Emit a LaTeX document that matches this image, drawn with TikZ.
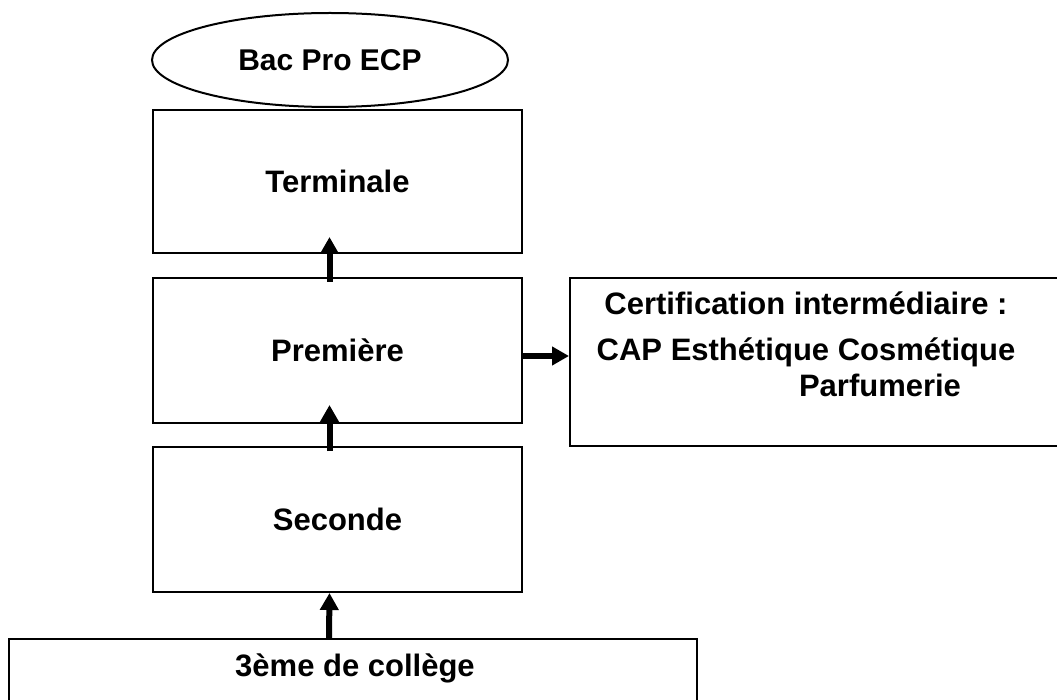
\documentclass[tikz,border=0pt]{standalone}
\usepackage{fontspec}
\setmainfont{Liberation Sans}
\usetikzlibrary{arrows.meta,shapes.geometric}

\begin{document}
\begin{tikzpicture}[x=1pt,y=-1pt,
  box/.style={draw,line width=2pt,rectangle,inner sep=0pt},
  lbl/.style={font=\fontsize{31pt}{36pt}\selectfont\bfseries,inner sep=0pt},
  fleche/.style={line width=6pt,-{Triangle[length=17pt,width=18pt]}}]
\useasboundingbox (0,0) rectangle (1057,700);
\node[box,lbl,ellipse,minimum width=356pt,minimum height=94pt,
  font=\fontsize{30pt}{36pt}\selectfont\bfseries] (bac) at (330,60) {Bac Pro ECP};
\node[box,lbl,minimum width=369pt,minimum height=143pt] (term) at (337.5,181.5) {Terminale};
\node[box,lbl,minimum width=369pt,minimum height=145pt] (prem) at (337.5,350.5) {Premi\`ere};
\node[box,lbl,minimum width=369pt,minimum height=145pt] (sec) at (337.5,519.5) {Seconde};
\node[box,anchor=north,minimum width=688pt,minimum height=80pt] (college) at (353,638) {};
\node[lbl,anchor=base] (collegetxt) at (355,676) {3\`eme de coll\`ege};
\node[box,anchor=north west,minimum width=493pt,minimum height=168pt] (cert) at (569,277) {};
\node[lbl,anchor=base] (cert1) at (806,315) {Certification interm\'ediaire :};
\node[lbl,anchor=base] (cert2) at (806,360) {CAP Esth\'etique Cosm\'etique};
\node[lbl,anchor=base] (cert3) at (880,396) {Parfumerie};
\draw[fleche] ([xshift=-8pt,yshift=-5pt]prem.north) -- ([xshift=-8pt,yshift=17pt]term.south);
\draw[fleche] ([xshift=-8pt,yshift=-5pt]sec.north) -- ([xshift=-8pt,yshift=19pt]prem.south);
\draw[fleche] ([xshift=-24pt]college.north) -- ([xshift=-8pt]sec.south);
\draw[fleche] ([yshift=-5.5pt]prem.east) -- ([yshift=-5.5pt]prem.east -| cert.west);
\end{tikzpicture}
\end{document}
